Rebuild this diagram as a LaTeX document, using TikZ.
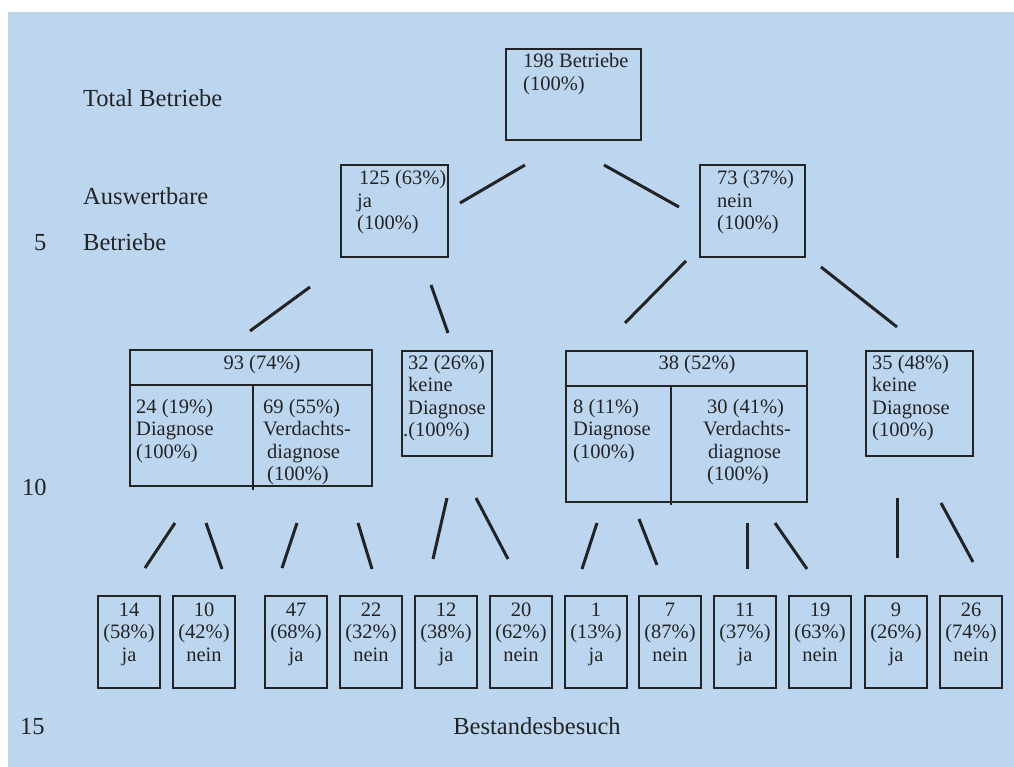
\documentclass[tikz,border=0pt]{standalone}
\usepackage{fontspec}
\setmainfont{Liberation Serif}
\definecolor{bg}{RGB}{188,214,240}
\definecolor{ink}{RGB}{35,35,35}
\begin{document}
\begin{tikzpicture}[x=1pt,y=-1pt,
  box/.style={draw=ink, line width=2.4pt, inner sep=0pt, outer sep=0pt, anchor=north west},
  divline/.style={draw=ink, line width=2.4pt},
  conn/.style={draw=ink, line width=3pt},
  txt/.style={text=ink, inner sep=0pt, anchor=base west, align=left, font=\fontsize{20.5}{22.5}\selectfont},
  ctxt/.style={txt, anchor=base, align=center},
  lbl/.style={text=ink, inner sep=0pt, anchor=base west, font=\fontsize{24.5}{26}\selectfont},
]
\useasboundingbox (0,0) rectangle (1014,767);
\fill[white] (0,0) rectangle (1014,767);
\fill[bg] (8,12) rectangle (1014,767);

% left labels
\node[lbl] (lTotal) at (83,107) {Total Betriebe};
\node[lbl] (lAusw) at (83,205) {Auswertbare};
\node[lbl] (lBetr) at (83,251) {Betriebe};
\node[lbl] (l5) at (34,251) {5};
\node[lbl] (l10) at (22,495) {10};
\node[lbl] (l15) at (20,734) {15};
\node[lbl, anchor=base] (lBest) at (537,734) {Bestandesbesuch};

% (multi-line text nodes are placed by the baseline of their last line)
% level 0
\node[box, minimum width=135pt, minimum height=91pt] (n198) at (506,49) {};
\node[txt] (t198) at (523,90.5) {198 Betriebe\\(100\%)};

% level 1
\node[box, minimum width=107pt, minimum height=92pt] (n125) at (341,165) {};
\node[txt] (t125) at (357,230) {\hspace*{2pt}125 (63\%)\\ja\\(100\%)};
\node[box, minimum width=105pt, minimum height=92pt] (n73) at (700,165) {};
\node[txt] (t73) at (717,230) {73 (37\%)\\nein\\(100\%)};

% level 2 left
\node[box, minimum width=242pt, minimum height=136pt] (n93) at (130,350) {};
\draw[divline] (130,385) -- (372,385);
\draw[divline] (253,385) -- (253,490);
\node[ctxt] (t93) at (262,369) {93 (74\%)};
\node[txt] (t24) at (136,458) {24 (19\%)\\Diagnose\\(100\%)};
\node[txt] (t69) at (263,480.5) {69 (55\%)\\Verdachts-\\\hspace*{4pt}diagnose\\\hspace*{4pt}(100\%)};

\node[box, minimum width=90pt, minimum height=105pt] (n32) at (402,351) {};
\node[txt] (t32) at (408,436.5) {32 (26\%)\\keine\\Diagnose\\\hspace*{-5pt}.(100\%)};

% level 2 right
\node[box, minimum width=241pt, minimum height=151pt] (n38) at (566,351) {};
\draw[divline] (566,386) -- (807,386);
\draw[divline] (671,386) -- (671,505);
\node[ctxt] (t38) at (697,369) {38 (52\%)};
\node[txt] (t8) at (573,458) {8 (11\%)\\Diagnose\\(100\%)};
\node[txt] (t30) at (703,480.5) {\hspace*{4pt}30 (41\%)\\Verdachts-\\\hspace*{5pt}diagnose\\\hspace*{4pt}(100\%)};

\node[box, minimum width=107pt, minimum height=105pt] (n35) at (866,351) {};
\node[txt] (t35) at (872,436.5) {35 (48\%)\\keine\\Diagnose\\(100\%)};

% bottom row
\foreach \x/\a/\b/\c/\nm in {98/14/58/ja/a, 173/10/42/nein/b, 265/47/68/ja/c, 340/22/32/nein/d,
  415/12/38/ja/e, 490/20/62/nein/f, 565/1/13/ja/g, 639/7/87/nein/h,
  714/11/37/ja/i, 789/19/63/nein/j, 865/9/26/ja/k, 940/26/74/nein/l} {
  \node[box, minimum width=62pt, minimum height=92pt] (b\nm) at (\x,596) {};
  \node[ctxt] (bt\nm) at (\x+31,661) {\a\\(\b\%)\\\c};
}

% connector end points
\coordinate (c1a) at (525,165); \coordinate (c1b) at (460,203);
\coordinate (c2a) at (604,165); \coordinate (c2b) at (679,207);
\coordinate (c3a) at (310,287); \coordinate (c3b) at (250,331);
\coordinate (c4a) at (431,285); \coordinate (c4b) at (448,333);
\coordinate (c5a) at (686,261); \coordinate (c5b) at (625,323);
\coordinate (c6a) at (821,267); \coordinate (c6b) at (897,327);

\coordinate (d1a) at (175,523); \coordinate (d1b) at (145,568);
\coordinate (d2a) at (206,523); \coordinate (d2b) at (222,569);
\coordinate (d3a) at (297,523); \coordinate (d3b) at (282,568);
\coordinate (d4a) at (358,523); \coordinate (d4b) at (372,569);
\coordinate (d5a) at (447,498); \coordinate (d5b) at (433,559);
\coordinate (d6a) at (476,498); \coordinate (d6b) at (508,559);
\coordinate (d7a) at (597,523); \coordinate (d7b) at (582,569);
\coordinate (d8a) at (639,519); \coordinate (d8b) at (657,565);
\coordinate (d9a) at (747,523); \coordinate (d9b) at (747,569);
\coordinate (d10a) at (775,523); \coordinate (d10b) at (807,569);
\coordinate (d11a) at (897,498); \coordinate (d11b) at (897,558);
\coordinate (d12a) at (941,503); \coordinate (d12b) at (973,562);

\foreach \p in {c1,c2,c3,c4,c5,c6,d1,d2,d3,d4,d5,d6,d7,d8,d9,d10,d11,d12} {
  \draw[conn] (\p a) -- (\p b);
}
\end{tikzpicture}
\end{document}
